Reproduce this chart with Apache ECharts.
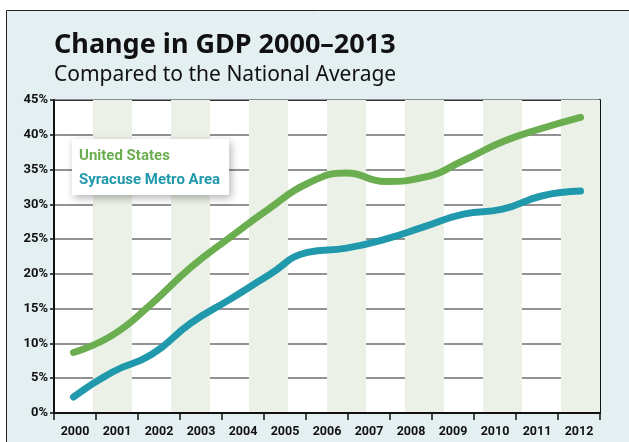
<!DOCTYPE html>
<html>
<head>
<meta charset="utf-8">
<script src="https://cdn.jsdelivr.net/npm/echarts@6/dist/echarts.min.js"></script>
<style>
  html, body { margin: 0; padding: 0; background: #fff; }
  #chart { width: 629px; height: 442px; }
</style>
</head>
<body>
<div id="chart"></div>
<script>
// data points sit on a 14-column grid (2000-2013), labels on a 13-column grid
var years = ['2000', '2001', '2002', '2003', '2004', '2005', '2006', '2007', '2008', '2009', '2010', '2011', '2012', '2013'];
var yearLabels = ['2000', '2001', '2002', '2003', '2004', '2005', '2006', '2007', '2008', '2009', '2010', '2011', '2012'];
var unitedStates = [8.7, 11.2, 15.7, 20.9, 25.2, 29.3, 33.0, 34.5, 33.3, 33.9, 36.3, 39.0, 40.9, 42.5];
var syracuse = [2.3, 5.9, 8.4, 12.9, 16.3, 19.8, 23.1, 23.7, 25.0, 26.8, 28.6, 29.3, 31.2, 31.9];

var green = '#6aae4f';
var teal = '#2199ac';
var labelFont = 'Roboto';

var myChart = echarts.init(document.getElementById('chart'));

var option = {
    backgroundColor: '#fff',
    animation: false,
    graphic: [{
        type: 'rect',
        z: -10,
        shape: { x: 6.5, y: 10.5, width: 640, height: 450 },
        style: { fill: '#e3eff1', stroke: '#222', lineWidth: 1 }
    }],
    title: {
        text: 'Change in GDP 2000\u20132013',
        subtext: 'Compared to the National Average',
        left: 49,
        top: 27,
        itemGap: 6,
        textStyle: { fontFamily: 'Noto Sans', fontWeight: 'bold', fontSize: 27, color: '#111' },
        subtextStyle: { fontFamily: 'Noto Sans', fontSize: 21, color: '#111' }
    },
    legend: {
        orient: 'vertical',
        left: 72,
        top: 139,
        z: 20,
        padding: [10, 9, 7, 2],
        itemWidth: 0,
        itemHeight: 14,
        itemGap: 9,
        icon: 'none',
        backgroundColor: '#fff',
        shadowBlur: 8,
        shadowColor: 'rgba(0,0,0,0.3)',
        shadowOffsetX: 2,
        shadowOffsetY: 3,
        textStyle: { fontFamily: 'Roboto', fontWeight: 'bold', fontSize: 15 },
        data: [
            { name: 'United States', textStyle: { color: green } },
            { name: 'Syracuse Metro Area', textStyle: { color: teal } }
        ]
    },
    grid: {
        left: 54,
        right: 29,
        top: 100,
        bottom: 29,
        show: true,
        backgroundColor: '#fff',
        borderWidth: 0
    },
    xAxis: [{
        type: 'category',
        data: years,
        boundaryGap: true,
        axisLabel: { show: false },
        axisTick: { show: false },
        axisLine: { show: true, lineStyle: { color: '#111', width: 2 } },
        splitArea: { show: true, areaStyle: { color: ['rgba(255,255,255,0)', '#ebf1e6'] } },
        z: 5
    }, {
        type: 'category',
        data: yearLabels,
        position: 'bottom',
        boundaryGap: true,
        axisLine: { show: false },
        axisTick: { show: true, length: 7, lineStyle: { color: '#111', width: 1.5 } },
        axisLabel: { interval: 0, margin: 12, fontFamily: labelFont, fontWeight: 'bold', fontSize: 12.5, color: '#111' }
    }, {
        type: 'category',
        data: yearLabels,
        position: 'top',
        axisLine: { show: true, lineStyle: { color: '#333', width: 1 } },
        axisTick: { show: false },
        axisLabel: { show: false }
    }],
    yAxis: [{
        type: 'value',
        min: 0,
        max: 45,
        interval: 5,
        axisLine: { show: true, lineStyle: { color: '#111', width: 2 } },
        axisTick: { show: true, length: 4, lineStyle: { color: '#111', width: 1.5 } },
        axisLabel: { formatter: '{value}%', margin: 6, fontFamily: labelFont, fontWeight: 'bold', fontSize: 13, color: '#111' },
        splitLine: { show: true, lineStyle: { color: '#6e6e6e', width: 1.5 } }
    }, {
        type: 'value',
        position: 'right',
        min: 0,
        max: 45,
        interval: 5,
        axisLine: { show: true, lineStyle: { color: '#111', width: 2 } },
        axisTick: { show: false },
        axisLabel: { show: false },
        splitLine: { show: false }
    }],
    series: [{
        name: 'United States',
        type: 'line',
        xAxisIndex: 0,
        yAxisIndex: 0,
        smooth: 0.5,
        symbol: 'none',
        lineStyle: { color: green, width: 7, cap: 'round' },
        itemStyle: { color: green },
        data: unitedStates,
        z: 10
    }, {
        name: 'Syracuse Metro Area',
        type: 'line',
        xAxisIndex: 0,
        yAxisIndex: 0,
        smooth: 0.5,
        symbol: 'none',
        lineStyle: { color: teal, width: 7, cap: 'round' },
        itemStyle: { color: teal },
        data: syracuse,
        z: 10
    }]
};

myChart.setOption(option);
</script>
</body>
</html>
